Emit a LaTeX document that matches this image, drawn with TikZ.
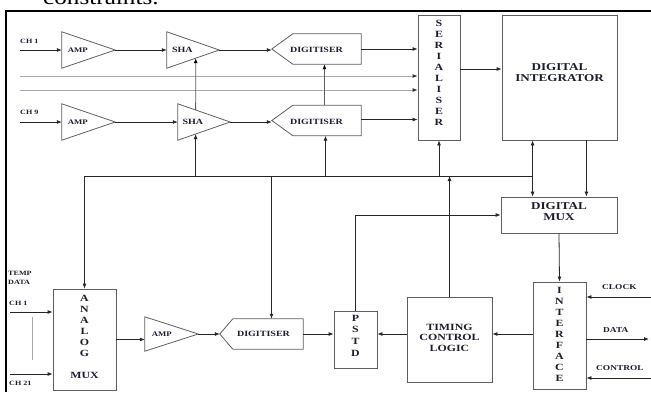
\documentclass[tikz,border=0pt]{standalone}
\usepackage{fontspec}
\setmainfont{Liberation Serif}
\newfontfamily\lblfont{Liberation Serif Bold}[FakeStretch=1.25]
\newfontfamily\bodyfont{Liberation Serif}[FakeStretch=1.2]
\usetikzlibrary{arrows.meta,calc}
\definecolor{txtc}{RGB}{28,28,48}
\definecolor{shpc}{RGB}{95,95,95}
\definecolor{grayln}{RGB}{170,170,170}
\newcommand{\lf}[2]{\lblfont\fontsize{#1}{#2}\selectfont}
\tikzset{
  ln/.style={draw=black!85, line width=0.8pt},
  arr/.style={ln, -{Latex[length=5pt,width=4pt]}},
  darr/.style={ln, {Latex[length=5pt,width=4pt]}-{Latex[length=5pt,width=4pt]}},
  garr/.style={draw=grayln, line width=0.8pt, -{Latex[length=5pt,width=4pt,color=black!80]}},
  gline/.style={draw=grayln, line width=0.8pt},
  shp/.style={draw=shpc, line width=0.8pt},
  holder/.style={rectangle, inner sep=0pt, draw=none},
  blk/.style={rectangle, inner sep=0pt, draw=shpc, line width=0.8pt},
  lab/.style={text=txtc, inner sep=0pt, align=center},
  vt/.style={lab, font=\lf{9.5}{11}},
}
\begin{document}
\begin{tikzpicture}[x=1pt,y=-1pt]
\useasboundingbox (0,0) rectangle (651,392);

% cropped body text at top
\node[anchor=base west, inner sep=0pt, font=\bodyfont\fontsize{21}{24}\selectfont] (ctext) at (43,4.5) {constraints.};

% frame (top and left)
\draw[line width=2pt] (651,11) -- (6,11) -- (6,392);

% ---------- row 1 ----------
\node[holder, minimum width=53, minimum height=36] (amp1) at (88.5,50) {};
\node[holder, minimum width=52, minimum height=36] (sha1) at (193,50) {};
\node[holder, minimum width=89, minimum height=30] (dig1) at (316.5,49) {};
% ---------- row 2 ----------
\node[holder, minimum width=53, minimum height=36] (amp2) at (88.5,122) {};
\node[holder, minimum width=52, minimum height=36] (sha2) at (204,122) {};
\node[holder, minimum width=89, minimum height=30] (dig2) at (316.5,120.5) {};
% ---------- right blocks ----------
\node[blk, minimum width=42, minimum height=125] (serial) at (439,77.5) {};
\node[blk, minimum width=115, minimum height=125] (integ) at (559.5,77.5) {};
\node[blk, minimum width=116, minimum height=36] (dmux) at (559,215) {};
\node[blk, minimum width=53, minimum height=107] (iface) at (559.5,335.5) {};
\node[blk, minimum width=85, minimum height=85] (timing) at (449.5,339.5) {};
\node[blk, minimum width=43, minimum height=57] (pstd) at (355.5,339.5) {};
\node[blk, minimum width=63, minimum height=101] (amux) at (84.5,339.5) {};
% ---------- row 3 ----------
\node[holder, minimum width=53, minimum height=34] (amp3) at (171.5,334) {};
\node[holder, minimum width=83, minimum height=30] (dig3) at (261.5,334) {};

% triangle shapes
\foreach \t in {amp1,sha1,amp2,sha2,amp3}{
  \draw[shp] (\t.north west) -- (\t.east) -- (\t.south west) -- cycle;
}
% digitiser shapes
\foreach \d/\k in {dig1/21,dig2/21,dig3/13}{
  \draw[shp] (\d.west) -- ($(\d.north west)+(\k,0)$) -- (\d.north east)
     -- (\d.south east) -- ($(\d.south west)+(\k,0)$) -- cycle;
}

% labels in shapes
\node[lab, font=\lf{7}{8}] at ($(amp1.west)+(16,0)$) {AMP};
\node[lab, font=\lf{7}{8}] at ($(amp2.west)+(16,0)$) {AMP};
\node[lab, font=\lf{7}{8}] at ($(amp3.west)+(17,0)$) {AMP};
\node[lab, font=\lf{8}{9}] at ($(sha1.west)+(15.5,0)$) {SHA};
\node[lab, font=\lf{8}{9}] at ($(sha2.west)+(15,0)$) {SHA};
\node[lab, font=\lf{8}{9}] at ($(dig1.center)+(0,0.5)$) {DIGITISER};
\node[lab, font=\lf{8}{9}] at ($(dig2.center)+(0,1)$) {DIGITISER};
\node[lab, font=\lf{8}{9}] at ($(dig3.center)+(2,0)$) {DIGITISER};
\node[vt] at ($(serial.center)+(0,-4.5)$) {S\\E\\R\\I\\A\\L\\I\\S\\E\\R};
\node[lab, font=\lf{10.5}{11}] at ($(integ.center)+(0,-5)$) {DIGITAL\\INTEGRATOR};
\node[lab, font=\lf{10.5}{11}] at ($(dmux.center)+(0,-3.5)$) {DIGITAL\\MUX};
\node[vt] at ($(iface.center)+(0,-1.5)$) {I\\N\\T\\E\\R\\F\\A\\C\\E};
\node[lab, font=\lf{9.5}{10.5}] at ($(timing.center)+(0,-2)$) {TIMING\\CONTROL\\LOGIC};
\node[lab, font=\lf{9.5}{11.7}] at ($(pstd.center)+(0,-4)$) {P\\S\\T\\D};
\node[vt] at ($(amux.center)+(0,-14)$) {A\\N\\A\\L\\O\\G};
\node[lab, font=\lf{9.5}{11}] at ($(amux.center)+(0,35.5)$) {MUX};

% outside labels
\node[lab, anchor=west, font=\lf{6.5}{7}] (lch1) at (20,41) {CH 1};
\node[lab, anchor=west, font=\lf{6.5}{7}] (lch9) at (20,112) {CH 9};
\node[lab, anchor=west, align=left, font=\lf{6.5}{9.5}] (ltemp) at (8,278) {TEMP\\DATA};
\node[lab, anchor=west, font=\lf{6.5}{7}] (lch1b) at (9,303) {CH 1};
\node[lab, anchor=west, font=\lf{6.5}{7}] (lch21) at (9,383) {CH 21};
\node[lab, anchor=west, font=\lf{7.5}{8}] (lclk) at (602,287) {CLOCK};
\node[lab, anchor=west, font=\lf{7.5}{8}] (ldat) at (603,330) {DATA};
\node[lab, anchor=west, font=\lf{7.5}{8}] (lctl) at (596,368) {CONTROL};

% ---------- input connectors ----------
\coordinate (in1) at (20,50);
\coordinate (in9) at (20,122);
\coordinate (g1) at (20,76);
\coordinate (g2) at (20,90);
\coordinate (d2o) at ($(dig2.east)+(0,-1)$);
\draw[arr] (in1) -- (amp1.west);
\draw[arr] (amp1.east) -- (sha1.west);
\draw[arr] (sha1.east) -- (sha1.east -| dig1.west);
\draw[arr] (dig1.east) -- (dig1.east -| serial.west);
\draw[garr] (g1) -- (g1 -| serial.west);
\draw[garr] (g2) -- (g2 -| serial.west);
\draw[arr] (in9) -- (amp2.west);
\draw[arr] (amp2.east) -- (sha2.west);
\draw[arr] (sha2.east) -- (sha2.east -| dig2.west);
\draw[arr] (d2o) -- (d2o -| serial.west);

% SHA2 -> SHA1, DIG2 -> DIG1
\coordinate (s2t) at ($(sha2.north west)!0.3404!(sha2.east)$);
\coordinate (s1b) at ($(sha1.south west)!0.5519!(sha1.east)$);
\coordinate (s2b) at ($(sha2.south west)!0.3404!(sha2.east)$);
\draw[ln, draw=shpc, -{Latex[length=5pt,width=4pt,color=black]}] (s2t) -- (s1b);
\coordinate (d2t) at ($(dig2.north)+(8,0)$);
\draw[ln, draw=shpc, -{Latex[length=5pt,width=4pt,color=black]}] (d2t) -- (d2t |- dig1.south);

% serialiser -> integrator
\coordinate (so) at ($(serial.east)+(0,-8.5)$);
\draw[arr] (so) -- (so -| integ.west);

% ---------- bus ----------
\coordinate (bus) at (0,176);
\coordinate (dd) at ($(integ.south west)+(31,0)$);
\coordinate (de) at ($(integ.south east)+(-31,0)$);
\coordinate (d2b) at ($(dig2.south)+(9,0)$);
\coordinate (d3t) at ($(dig3.north)+(10,0)$);
\draw[ln] (amux.north |- bus) -- (dd |- bus);
\draw[arr] (amux.north |- bus) -- (amux.north);
\draw[arr] (s2b |- bus) -- (s2b);
\draw[arr] (d2b |- bus) -- (d2b);
\draw[arr] (d3t |- bus) -- (d3t);
\draw[arr] (serial.south |- bus) -- (serial.south);
\draw[arr] (timing.north) -- (timing.north |- bus);
\draw[darr] (dd) -- (dd |- dmux.north);
\draw[arr] (de) -- (de |- dmux.north);

% ---------- lower connectors ----------
\draw[arr] (pstd.north) |- (dmux.west);
\draw[arr] (dmux.south) -- (iface.north);
\draw[arr] (iface.west |- dig3.east) -- (timing.east |- dig3.east);
\draw[arr] (timing.west |- dig3.east) -- (pstd.east |- dig3.east);
\draw[arr] (dig3.east) -- (dig3.east -| pstd.west);
\draw[arr] (amp3.east) -- (amp3.east -| dig3.west);
\draw[arr] (amux.east) -- (amux.east -| amp3.west);

% analog mux inputs
\coordinate (a1) at (10,312);
\coordinate (a21) at (10,374);
\draw[arr] (a1) -- (a1 -| amux.west);
\draw[arr] (a21) -- (a21 -| amux.west);
\draw[gline] (32,317) -- (32,360);

% interface external signals
\coordinate (clkR) at (651,297);
\coordinate (datR) at (649,339);
\coordinate (ctlR) at (651,378);
\draw[arr] (clkR) -- (clkR -| iface.east);
\draw[arr] (datR -| iface.east) -- (datR);
\draw[arr] (ctlR) -- (ctlR -| iface.east);
\end{tikzpicture}
\end{document}
